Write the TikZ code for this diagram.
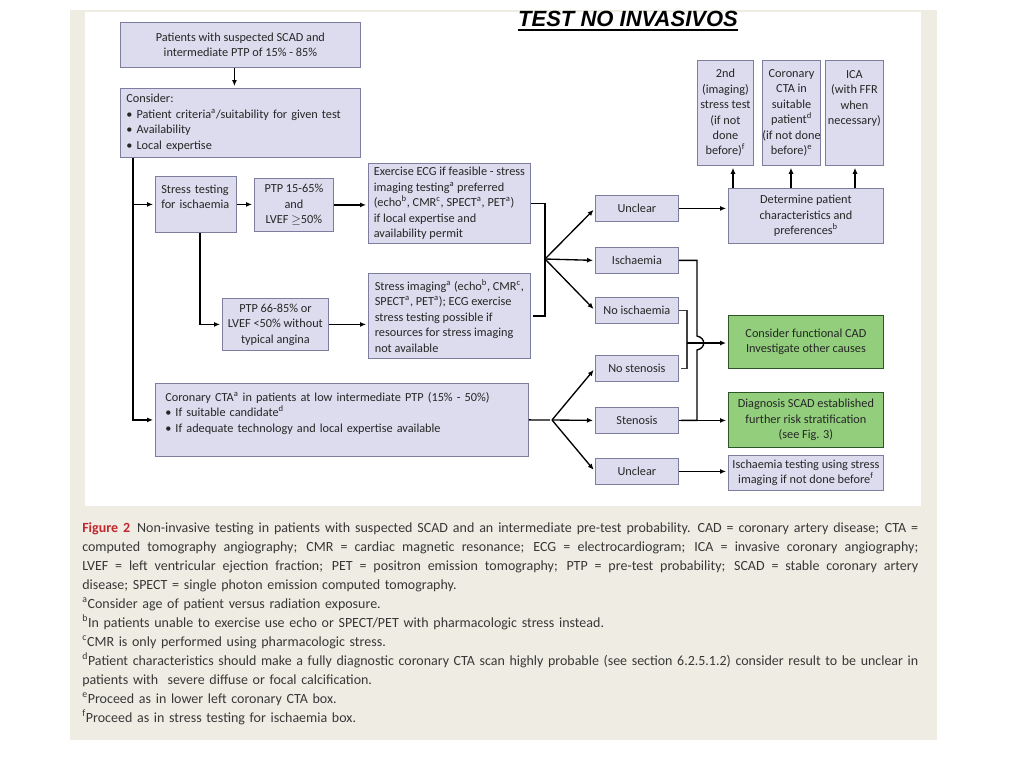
\documentclass[tikz,border=0pt]{standalone}
\usepackage{fontspec}
\usepackage{graphicx}
\setmainfont{Carlito}
\newfontfamily\titlefont{Liberation Sans}
\usetikzlibrary{arrows.meta}

\definecolor{boxfill}{RGB}{220,220,238}
\definecolor{boxline}{RGB}{125,125,160}
\definecolor{gfill}{RGB}{146,206,124}
\definecolor{gline}{RGB}{45,85,40}
\definecolor{panel}{RGB}{239,237,227}
\definecolor{capgray}{RGB}{55,55,55}
\definecolor{figred}{RGB}{193,39,45}

\newsavebox{\capbox}
\newlength{\capw}
\setlength{\capw}{627pt}
% 说明文字逐行撑满
\newcommand{\fitline}[1]{\leavevmode\sbox{\capbox}{#1}%
  \ifdim\wd\capbox>\capw\resizebox{\capw}{\height}{#1}%
  \else\hbox to\capw{\spaceskip=\fontdimen2\font plus 1fil\relax #1}\fi}
\newcommand{\thickul}[1]{\sbox{\capbox}{#1}\rlap{\rule[-3pt]{\wd\capbox}{1.6pt}}\usebox{\capbox}}

\begin{document}
\begin{tikzpicture}[x=0.75pt, y=-0.75pt,
    >={Latex[length=4.5pt,width=3.8pt]},
    box/.style={draw=boxline, fill=boxfill, line width=0.6pt, inner sep=0pt,
        anchor=north west, text=black!85, font=\fontsize{9.2}{11.6}\selectfont},
    cbox/.style={box, align=center},
    lbox/.style={box, align=left},
    res/.style={cbox, minimum width=62.25pt, minimum height=19.5pt},
    gbox/.style={cbox, draw=gline, fill=gfill},
    link/.style={line width=1pt, shorten >=1.5pt},
    caption/.style={anchor=north west, inner sep=0pt, text width=\capw, align=left,
        text=capgray, font=\fontsize{10.5}{14.25}\selectfont}]
    \useasboundingbox (0,0) rectangle (1024,768);

    % 背景
    \fill[white] (0,0) rectangle (1024,768);
    \fill[panel] (70,10) rectangle (937,740);
    \fill[white] (85,12) rectangle (921,506);

    % 标题
    \node[font=\titlefont\bfseries\itshape\fontsize{16.5}{18}\selectfont] (ttl) at (628,21) {\thickul{TEST NO INVASIVOS}};

    % 左侧
    \node[cbox, minimum width=180pt, minimum height=33.75pt] (pat) at (120,22)
        {Patients with suspected SCAD and\\intermediate PTP of 15\% - 85\%};
    \node[lbox, text width=171pt, inner xsep=4.5pt, minimum height=51.75pt] (cons) at (120,88)
        {Consider:\\\textbullet\ Patient criteria\textsuperscript{a}/suitability for given test\\\textbullet\ Availability\\\textbullet\ Local expertise};
    \node[lbox, text width=52pt, inner xsep=4.4pt, minimum height=42pt] (stress) at (155,176)
        {Stress testing\\for ischaemia\\~};
    \node[cbox, minimum width=59.25pt, minimum height=39.75pt] (ptpA) at (254,178)
        {PTP 15-65\%\\and\\LVEF $\geq$50\%};
    \node[lbox, minimum width=121.5pt, minimum height=60pt] (ecg) at (368,163)
        {Exercise ECG if feasible - stress\\imaging testing\textsuperscript{a} preferred\\(echo\textsuperscript{b}, CMR\textsuperscript{c}, SPECT\textsuperscript{a}, PET\textsuperscript{a})\\if local expertise and\\availability permit};
    \node[cbox, minimum width=79.5pt, minimum height=39pt] (ptpB) at (222,298)
        {PTP 66-85\% or\\LVEF <50\% without\\typical angina};
    \node[lbox, minimum width=121.5pt, minimum height=63.75pt] (simg) at (368,273)
        {Stress imaging\textsuperscript{a} (echo\textsuperscript{b}, CMR\textsuperscript{c},\\SPECT\textsuperscript{a}, PET\textsuperscript{a}); ECG exercise\\stress testing possible if\\resources for stress imaging\\not available};
    \node[lbox, text width=265pt, inner xsep=7.4pt, minimum height=54.75pt] (cta) at (155,383)
        {Coronary CTA\textsuperscript{a} in patients at low intermediate PTP (15\% - 50\%)\\\textbullet\ If suitable candidate\textsuperscript{d}\\\textbullet\ If adequate technology and local expertise available\\~};

    % 结果
    \node[res] (unc1) at (595,195) {Unclear};
    \node[res] (isch) at (595,247) {Ischaemia};
    \node[res] (nois) at (595,297) {No ischaemia};
    \node[res] (nost) at (595,355) {No stenosis};
    \node[res] (sten) at (595,407) {Stenosis};
    \node[res] (unc2) at (595,458) {Unclear};

    % 右侧
    \node[cbox, minimum width=42pt, minimum height=78.75pt] (s2nd) at (697,60)
        {2nd\\(imaging)\\stress test\\(if not\\done\\before)\textsuperscript{f}};
    \node[cbox, minimum width=43.5pt, minimum height=78.75pt] (cct) at (762,60)
        {Coronary\\CTA in\\suitable\\patient\textsuperscript{d}\\(if not done\\before)\textsuperscript{e}};
    \node[cbox, minimum width=43.5pt, minimum height=78.75pt] (ica) at (825,60)
        {ICA\\(with FFR\\when\\necessary)\\~\\~};
    \node[cbox, minimum width=116.25pt, minimum height=41.25pt] (det) at (728,188)
        {Determine patient\\characteristics and\\preferences\textsuperscript{b}};
    \node[gbox, minimum width=116.25pt, minimum height=39.75pt] (fcad) at (728,315)
        {Consider functional CAD\\Investigate other causes};
    \node[gbox, minimum width=116.25pt, minimum height=41.25pt] (diag) at (728,392)
        {Diagnosis SCAD established\\further risk stratification\\(see Fig. 3)};
    \node[cbox, minimum width=116.25pt, minimum height=26.25pt] (itest) at (728,455)
        {Ischaemia testing using stress\\imaging if not done before\textsuperscript{f}};

    % 左侧连线
    \draw[link,->] ([xshift=-4.5pt]pat.south) -- ([xshift=-4.5pt]cons.north);
    \draw[link,->] ([xshift=9.75pt]cons.south west) |- (stress.west);
    \draw[link,->] ([xshift=9.75pt]cons.south west) |- (cta.west);
    \draw[link,->] (stress.east) -- (stress.east -| ptpA.west);
    \draw[link,->] ([xshift=3pt]stress.south) |- (ptpB.west);
    \draw[link,->] (ptpA.east) -- (ptpA.east -| ecg.west);
    \draw[link,->] (ptpB.east) -- (ptpB.east -| simg.west);

    % 分支
    \coordinate (brA) at (545,259);
    \coordinate (brB) at (552,420);
    \draw[link] (ecg.east) -| (brA) |- (simg.east);
    \foreach \r in {unc1,isch,nois} \draw[link,->] (brA) -- (\r.west);
    \draw[link] (cta.east) -- (brB);
    \foreach \r in {nost,sten,unc2} \draw[link,->] (brB) -- (\r.west);

    % 右侧连线
    \draw[link,->] (unc1.east) -- (unc1.east -| det.west);
    \draw[link,->] (sten.east) -- (sten.east -| diag.west);
    \draw[link,->] (unc2.east) -- (unc2.east -| itest.west);
    \coordinate (hopA) at (697,336);
    \coordinate (hopB) at (697,350);
    \draw[link] (isch.east) -| (hopA) .. controls +(9,2) and +(9,-2) .. (hopB) |- (sten.east);
    \coordinate (brC) at (687,343);
    \draw[link, line width=0.8pt, black!75] (nois.east) -| (brC) |- (nost.east);
    \draw[link,->] (brC) -- (brC -| fcad.west);

    % 向上箭头
    \coordinate (upA) at (733,188);
    \coordinate (upB) at (791,188);
    \coordinate (upC) at (855,188);
    \foreach \u/\b in {upA/s2nd,upB/cct,upC/ica} \draw[link,->] (\u) -- (\u |- \b.south);

    % 图注
    \node[caption] (cap) at (82,522) {%
        \fitline{\textcolor{figred}{\textbf{Figure 2}}\enspace Non-invasive testing in patients with suspected SCAD and an intermediate pre-test probability. CAD = coronary artery disease; CTA =}\\
        \fitline{computed tomography angiography; CMR = cardiac magnetic resonance; ECG = electrocardiogram; ICA = invasive coronary angiography;}\\
        \fitline{LVEF = left ventricular ejection fraction; PET = positron emission tomography; PTP = pre-test probability; SCAD = stable coronary artery}\\
        disease; SPECT = single photon emission computed tomography.\\
        \textsuperscript{a}Consider age of patient versus radiation exposure.\\
        \textsuperscript{b}In patients unable to exercise use echo or SPECT/PET with pharmacologic stress instead.\\
        \textsuperscript{c}CMR is only performed using pharmacologic stress.\\
        \fitline{\textsuperscript{d}Patient characteristics should make a fully diagnostic coronary CTA scan highly probable (see section 6.2.5.1.2) consider result to be unclear in}\\
        patients with\ \ severe diffuse or focal calcification.\\
        \textsuperscript{e}Proceed as in lower left coronary CTA box.\\
        \textsuperscript{f}Proceed as in stress testing for ischaemia box.};
\end{tikzpicture}
\end{document}
